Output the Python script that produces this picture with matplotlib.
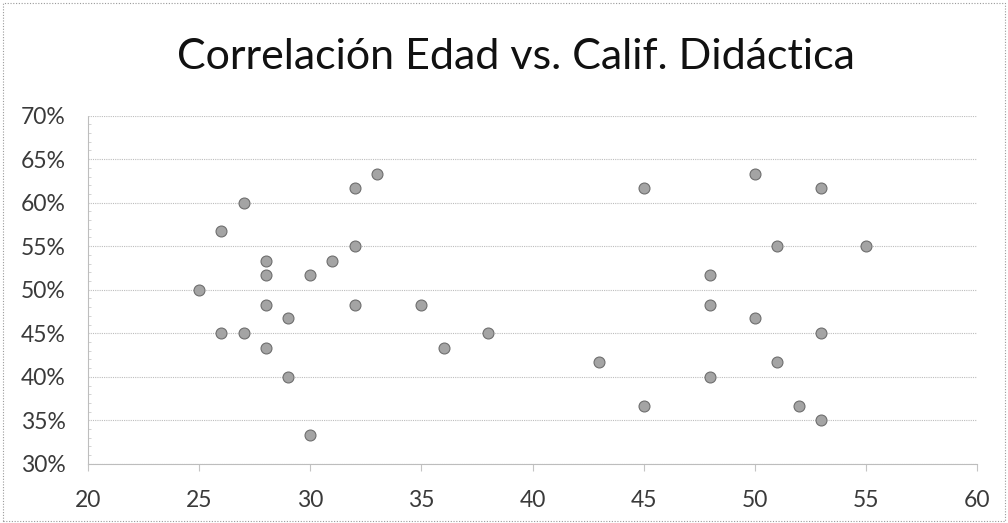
import matplotlib.pyplot as plt
from matplotlib.patches import Rectangle
from matplotlib.ticker import FuncFormatter, MultipleLocator

# -----------------------------
# DATA (edad, calificacion didactica)
# -----------------------------
edad = [
    33, 32, 27, 26, 32, 28, 31, 28, 30, 25, 28, 32, 35, 29, 26, 27, 38, 28,
    36, 29, 30,
    50, 45, 53, 51, 55, 48, 48, 50, 53, 43, 51, 48, 45, 52, 53,
]
calif = [
    0.633, 0.617, 0.600, 0.567, 0.550, 0.533, 0.533, 0.517, 0.517, 0.500,
    0.483, 0.483, 0.483, 0.467, 0.450, 0.450, 0.450, 0.433, 0.433, 0.400,
    0.333,
    0.633, 0.617, 0.617, 0.550, 0.550, 0.517, 0.483, 0.467, 0.450, 0.417,
    0.417, 0.400, 0.367, 0.367, 0.350,
]
x_ticks = [20, 25, 30, 35, 40, 45, 50, 55, 60]
y_ticks = [0.30, 0.35, 0.40, 0.45, 0.50, 0.55, 0.60, 0.65, 0.70]

# -----------------------------
# PLOT
# -----------------------------
fig = plt.figure(figsize=(10.08, 5.23), dpi=100)
ax = fig.add_axes([0.0873, 0.113, 0.882, 0.666])

# dotted frame around the chart area
fig.patches.append(Rectangle(
    (0.003, 0.004), 0.994, 0.99, transform=fig.transFigure,
    fill=False, edgecolor="#9a9a9a", linewidth=0.8, linestyle=(0, (1, 1.5))
))

ax.scatter(edad, calif, s=62, color="#a4a4a4", edgecolor="#6e6e6e",
           linewidth=0.8, zorder=3)

ax.set_xlim(20, 60)
ax.set_ylim(0.30, 0.70)
ax.set_xticks(x_ticks)
ax.set_yticks(y_ticks)
ax.yaxis.set_major_formatter(FuncFormatter(lambda v, p: f"{v * 100:.0f}%"))
ax.yaxis.set_minor_locator(MultipleLocator(0.01))

ax.grid(axis="y", color="#bdbdbd", linestyle=(0, (1, 1)), linewidth=0.8)

for side in ["top", "right"]:
    ax.spines[side].set_visible(False)
for side in ["left", "bottom"]:
    ax.spines[side].set_color("#bdbdbd")
    ax.spines[side].set_linestyle((0, (1, 1)))
    ax.spines[side].set_linewidth(0.8)

ax.tick_params(axis="y", which="major", length=0, pad=16,
               labelsize=16.5, labelcolor="#3a3a3a")
ax.tick_params(axis="y", which="minor", length=2, color="#cccccc",
               direction="in")
ax.tick_params(axis="x", length=5, color="#c4c4c4", pad=14,
               labelsize=16.5, labelcolor="#3a3a3a")
for lbl in ax.get_xticklabels() + ax.get_yticklabels():
    lbl.set_family("Lato")

fig.text(0.512, 0.891, "Correlación Edad vs. Calif. Didáctica",
         ha="center", va="center", fontsize=31, family="Lato",
         color="#111111")

plt.savefig("out.png", dpi=100)
plt.close()
